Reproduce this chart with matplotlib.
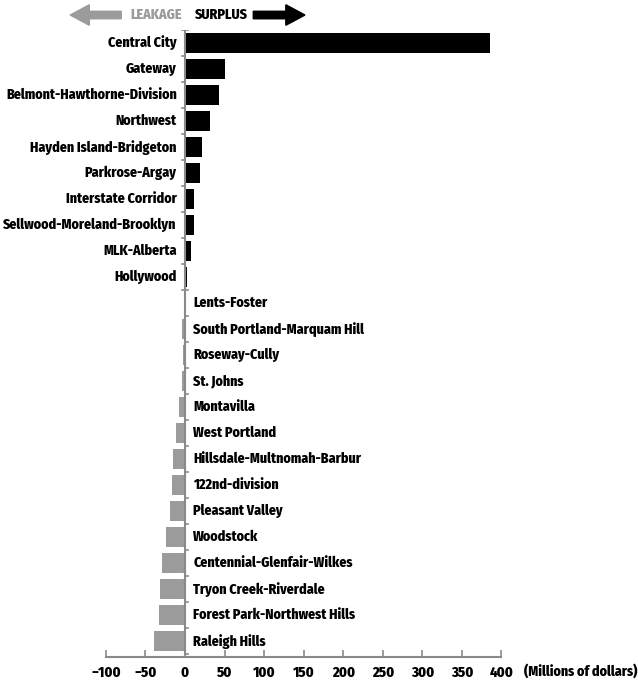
import matplotlib
matplotlib.use("Agg")
import matplotlib.pyplot as plt
from matplotlib.patches import FancyArrow

plt.rcParams['font.family'] = ['Fira Sans Condensed', 'Roboto Condensed', 'DejaVu Sans']
plt.rcParams['font.weight'] = 800

# surplus (positive) and leakage (negative), millions of dollars
areas = ["Central City", "Gateway", "Belmont-Hawthorne-Division", "Northwest",
         "Hayden Island-Bridgeton", "Parkrose-Argay", "Interstate Corridor",
         "Sellwood-Moreland-Brooklyn", "MLK-Alberta", "Hollywood",
         "Lents-Foster", "South Portland-Marquam Hill", "Roseway-Cully",
         "St. Johns", "Montavilla", "West Portland", "Hillsdale-Multnomah-Barbur",
         "122nd-division", "Pleasant Valley", "Woodstock",
         "Centennial-Glenfair-Wilkes", "Tryon Creek-Riverdale",
         "Forest Park-Northwest Hills", "Raleigh Hills"]
values = [385, 51, 43, 32, 22, 19.5, 11, 11, 7, 3,
          -1, -4, -3, -4, -7, -11, -15, -16.5, -19, -24,
          -29, -32, -33, -39]
xticks = [-100, -50, 0, 50, 100, 150, 200, 250, 300, 350, 400]

GRAY = '#9b9b9b'
LINE = '#8a8a8a'

fig = plt.figure(figsize=(6.38, 6.83), dpi=100)
ax = fig.add_axes([0.166, 0.038, 0.62, 0.918])

ypos = list(range(len(areas)))
colors = ['black' if v > 0 else GRAY for v in values]
ax.barh(ypos, values, height=0.77, color=colors, zorder=2)

for y, name, v in zip(ypos, areas, values):
    if v > 0:
        ax.annotate(name, (0, y), xytext=(-6, 0), textcoords='offset points',
                    ha='right', va='center', fontsize=10)
    else:
        ax.annotate(name, (0, y), xytext=(6, 0), textcoords='offset points',
                    ha='left', va='center', fontsize=10)

# zero line with small category ticks
n = len(areas)
ax.plot([0, 0], [-0.5, n - 0.5], color=LINE, lw=1.5, zorder=3)
npos = sum(1 for v in values if v > 0)
for i in range(n + 1):
    yb = i - 0.5
    if i == 0 or i == npos:
        x0, x1 = -4, 4
    elif i < npos:
        x0, x1 = -4, 0
    else:
        x0, x1 = 0, 4
    ax.plot([x0, x1], [yb, yb], color=LINE, lw=1.2, zorder=3)

ax.set_xlim(-100, 400)
ax.set_ylim(n - 0.4, -0.5)
ax.set_xticks(xticks)
ax.set_xticklabels([('\u2212' + str(-t)) if t < 0 else str(t) for t in xticks],
                   fontsize=10.5)
ax.set_yticks([])
for s in ['left', 'top', 'right']:
    ax.spines[s].set_visible(False)
ax.spines['bottom'].set_color(LINE)
ax.spines['bottom'].set_linewidth(1.5)
ax.tick_params(axis='x', direction='in', length=5, width=1.2, color=LINE, pad=6)

fig.text(0.822, 0.0175, "(Millions of dollars)", fontsize=10, va='center', ha='left')

# legend arrows
fig.patches.append(FancyArrow(0.190, 0.978, -0.080, 0, width=0.011,
                              head_width=0.030, head_length=0.03,
                              length_includes_head=True, color=GRAY,
                              transform=fig.transFigure, figure=fig))
fig.text(0.205, 0.978, "LEAKAGE", color=GRAY, fontsize=10, va='center', ha='left')
fig.text(0.305, 0.978, "SURPLUS", color='black', fontsize=10, va='center', ha='left')
fig.patches.append(FancyArrow(0.397, 0.978, 0.081, 0, width=0.011,
                              head_width=0.030, head_length=0.03,
                              length_includes_head=True, color='black',
                              transform=fig.transFigure, figure=fig))

fig.savefig("out.png", dpi=100)
